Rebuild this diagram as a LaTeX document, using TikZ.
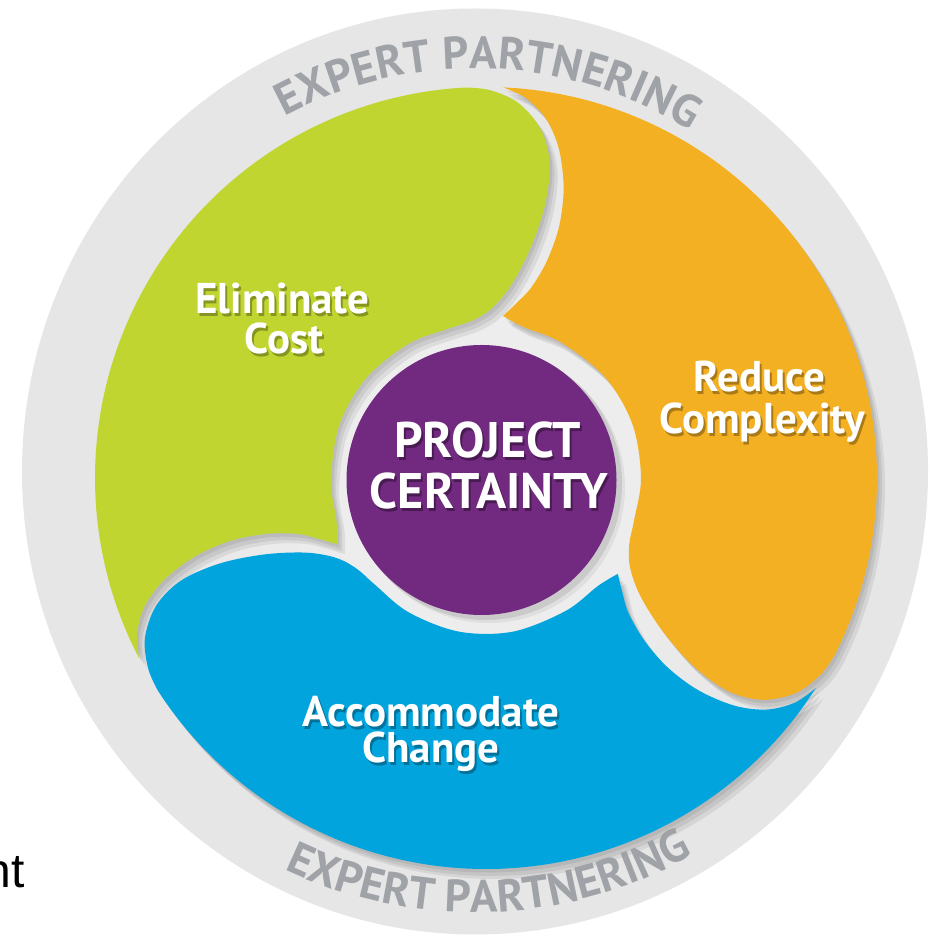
\documentclass[tikz,border=0pt]{standalone}
\usepackage{fontspec}
\setmainfont{PT Sans}
\newfontfamily\arialf{Liberation Sans}
\usetikzlibrary{decorations.text}
\definecolor{ringgrey}{HTML}{E6E6E7}
\definecolor{ringlight}{HTML}{F1F1F1}
\definecolor{ringtext}{HTML}{9FA2A7}
\definecolor{cgreen}{HTML}{C1D530}
\definecolor{corange}{HTML}{F3B022}
\definecolor{cblue}{HTML}{02A4DE}
\definecolor{cpurple}{HTML}{722A81}
\newcommand{\ringfont}{\bfseries\fontsize{45.5}{45.5}\selectfont}
\tikzset{
  blobpath/.style={insert path={
    plot[smooth,tension=0.55] coordinates {(204:163) (196:155.5) (181:155) (160:156) (140:156) (120:155) (104:154) (95:158) (88:170) (82.5:195) (79:235) (77.8:280) (78.6:322) (81.2:354) (85.2:377) (89.5:388) (93:391)}
    arc[start angle=93,end angle=207.5,radius=391]
    -- plot[smooth,tension=0.55] coordinates {(207.5:391) (204:382) (200.5:364) (197.5:337) (195:300) (193.8:262) (194.3:226) (196.6:196) (200:178) (204:163)} -- cycle}},
  blobshadow/.style={fill=black,fill opacity=0.07},
  labtext/.style={text=white,font=\bfseries\fontsize{43}{43}\selectfont,inner sep=0pt,anchor=base},
  labshadow/.style={labtext,text=black,text opacity=0.3},
  coretext/.style={labtext,font=\bfseries\fontsize{50}{50}\selectfont},
  coreshadow/.style={coretext,text=black,text opacity=0.35},
}
\newcommand{\shlabel}[5]{% style, name, x, y, text
  \node[#1shadow] (#2s) at ({#3+2},{#4-2.5}) {#5};
  \node[#1text] (#2) at (#3,#4) {#5};}
\begin{document}
\begin{tikzpicture}[x=1pt,y=1pt]
\useasboundingbox (0,0) rectangle (932,940);
\fill[white] (0,0) rectangle (932,940);
\begin{scope}
\clip (0,0) rectangle (932,940);
% grey ring
\fill[ringgrey] (475,468.5) ellipse[x radius=453,y radius=463];
\shade[inner color=ringlight,outer color=ringgrey] (486,462) circle[radius=400];
% blobs
\begin{scope}[shift={(486,462)}]
  \foreach \a in {0,-120,120}{
    \fill[blobshadow,shift={(2.5,-3.5)},rotate=\a,blobpath];
    \fill[blobshadow,shift={(5,-7)},rotate=\a,blobpath];
    \fill[blobshadow,shift={(8,-10)},rotate=\a,blobpath];
  }
  \fill[cgreen,rotate=0,blobpath];
  \fill[corange,rotate=-120,blobpath];
  \fill[cblue,rotate=120,blobpath];
  \node[circle,fill=black,fill opacity=0.09,minimum size=272pt,inner sep=0pt] (coreS) at (0,-6) {};
  \node[circle,fill=black,fill opacity=0.06,minimum size=272pt,inner sep=0pt] (coreSS) at (3,-9) {};
  \node[circle,fill=cpurple,minimum size=270pt,inner sep=0pt] (core) at (-4.5,-2) {};
\end{scope}
% ring texts
\path[decorate,decoration={text along path,text align=center,text color=ringtext,
   text={|\ringfont|EXPERT PARTNERING}}] (475,468.5) ++(148:403) arc[start angle=148,end angle=28,radius=403];
\path[decorate,decoration={text along path,text align=center,text color=ringtext,
   text={|\ringfont|EXPERT PARTNERING}}] (475,468.5) ++(212:441) arc[start angle=212,end angle=332,radius=441];
% labels
\shlabel{lab}{elim}{282.5}{626}{Eliminate}
\shlabel{lab}{cost}{284}{586}{Cost}
\shlabel{lab}{reduce}{759.5}{548}{Reduce}
\shlabel{lab}{complex}{762.5}{506}{Complexity}
\shlabel{lab}{accom}{431}{213}{Accommodate}
\shlabel{lab}{change}{431}{177}{Change}
\shlabel{core}{project}{487.5}{482}{PROJECT}
\shlabel{core}{certain}{489}{431}{CERTAINTY}
% cut-off text at left
\node[font=\arialf\fontsize{48}{48}\selectfont,text=black,inner sep=0pt,anchor=base east] (nt) at (25,52) {nt};
\end{scope}
\end{tikzpicture}
\end{document}
